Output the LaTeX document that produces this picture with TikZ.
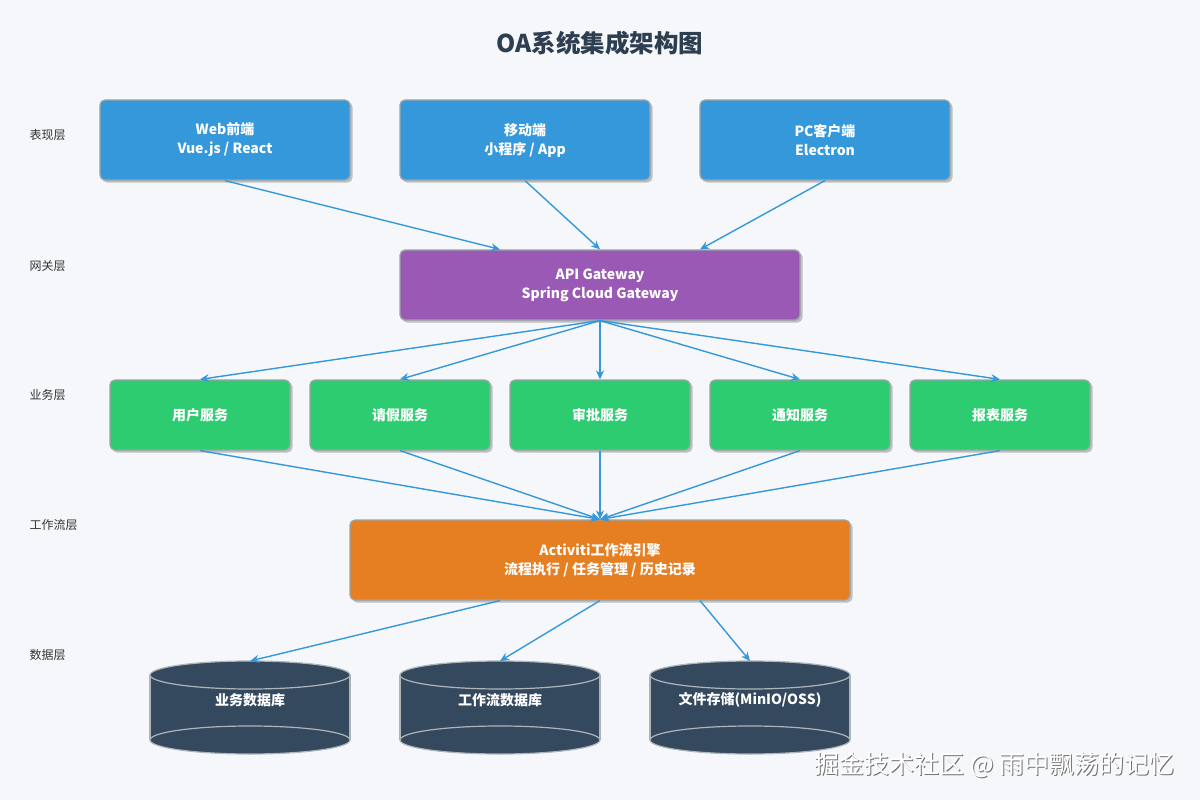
\documentclass[tikz,border=0pt]{standalone}
\usepackage{fontspec}
\setmainfont{Noto Sans CJK SC}
\usetikzlibrary{arrows.meta,calc}
\definecolor{bgc}{HTML}{F5F7FA}
\definecolor{titc}{HTML}{2C3E50}
\definecolor{bluec}{HTML}{3498DB}
\definecolor{purc}{HTML}{9B59B6}
\definecolor{grnc}{HTML}{2ECC71}
\definecolor{orgc}{HTML}{E67E22}
\definecolor{dbc}{HTML}{34495E}
\definecolor{edgec}{HTML}{9AA3A8}
\definecolor{labc}{HTML}{333333}
\begin{document}
\begin{tikzpicture}[x=1pt,y=-1pt,
  box/.style={rounded corners=5pt,draw=edgec,line width=1.2pt,text=white,align=center,
    font=\fontsize{14}{19}\selectfont\bfseries,inner sep=0pt},
  conn/.style={draw=bluec,line width=1.4pt,-{Stealth[length=9pt,width=8pt]}},
  lay/.style={anchor=west,text=labc,font=\fontsize{12}{14}\selectfont},
  dbtxt/.style={text=white,font=\fontsize{14}{16}\selectfont\bfseries},
  cyl/.style={fill=dbc,draw=edgec!80,line width=1.2pt}]
\useasboundingbox (0,0) rectangle (1200,800);
\fill[bgc] (0,0) rectangle (1200,800);
\node[text=titc,font=\fontsize{24.5}{28}\selectfont\bfseries] (title) at (600,43) {OA系统集成架构图};
% layer labels
\node[lay] (l1) at (26,135) {表现层};
\node[lay] (l2) at (26,266) {网关层};
\node[lay] (l3) at (26,395) {业务层};
\node[lay] (l4) at (26,525) {工作流层};
\node[lay] (l5) at (26,655) {数据层};
% shadows
\foreach \a/\b/\c/\d in {100/100/350/180,400/100/650/180,700/100/950/180,400/250/800/320,
  110/380/290/450,310/380/490/450,510/380/690/450,710/380/890/450,910/380/1090/450,350/520/850/600}{
  \fill[black!25,rounded corners=5pt] (\a+2,\b+2) rectangle (\c+2.5,\d+2.5);}
% top row
\node[box,fill=bluec,minimum width=250pt,minimum height=80pt] (web) at (225,140) {Web前端\\Vue.js / React};
\node[box,fill=bluec,minimum width=250pt,minimum height=80pt] (mob) at (525,140) {移动端\\小程序 / App};
\node[box,fill=bluec,minimum width=250pt,minimum height=80pt] (pc) at (825,140) {PC客户端\\Electron};
% gateway
\node[box,fill=purc,minimum width=400pt,minimum height=70pt] (gw) at (600,285) {API Gateway\\Spring Cloud Gateway};
% services
\node[box,fill=grnc,minimum width=180pt,minimum height=70pt] (s1) at (200,415) {用户服务};
\node[box,fill=grnc,minimum width=180pt,minimum height=70pt] (s2) at (400,415) {请假服务};
\node[box,fill=grnc,minimum width=180pt,minimum height=70pt] (s3) at (600,415) {审批服务};
\node[box,fill=grnc,minimum width=180pt,minimum height=70pt] (s4) at (800,415) {通知服务};
\node[box,fill=grnc,minimum width=180pt,minimum height=70pt] (s5) at (1000,415) {报表服务};
% activiti
\node[box,fill=orgc,minimum width=500pt,minimum height=80pt] (act) at (600,560) {Activiti工作流引擎\\流程执行 / 任务管理 / 历史记录};
% databases
\foreach \n/\cx in {d1/250,d2/500,d3/750}{
  \fill[dbc] (\cx-100,675) rectangle (\cx+100,740);
  \draw[cyl] (\cx,740) ellipse [x radius=100pt,y radius=14pt];
  \draw[edgec!80,line width=1.2pt] (\cx-100,675) -- (\cx-100,740) (\cx+100,675) -- (\cx+100,740);
  \draw[cyl] (\cx,675) ellipse [x radius=100pt,y radius=14pt];
  \coordinate (\n) at (\cx,661);
}
\node[dbtxt] (t1) at (250,700) {业务数据库};
\node[dbtxt] (t2) at (500,700) {工作流数据库};
\node[dbtxt] (t3) at (750,700) {文件存储(MinIO/OSS)};
% connectors
\draw[conn] (web.south) -- ($(gw.north)+(-100,0)$);
\draw[conn] (mob.south) -- (gw.north);
\draw[conn] (pc.south) -- ($(gw.north)+(100,0)$);
\foreach \s in {s1,s2,s3,s4,s5}{
  \draw[conn] (gw.south) -- (\s.north);
  \draw[conn] (\s.south) -- (act.north);
}
\draw[conn] ($(act.south)+(-100,0)$) -- (d1);
\draw[conn] (act.south) -- (d2);
\draw[conn] ($(act.south)+(100,0)$) -- (d3);
% watermark
\node[anchor=east,text=black!55,font=\fontsize{25}{28}\selectfont] (wm0) at (1179.2,766.2) {掘金技术社区 @ 雨中飘荡的记忆};
\node[anchor=east,text=white,font=\fontsize{25}{28}\selectfont] (wm) at (1178,765) {掘金技术社区 @ 雨中飘荡的记忆};
\end{tikzpicture}
\end{document}
